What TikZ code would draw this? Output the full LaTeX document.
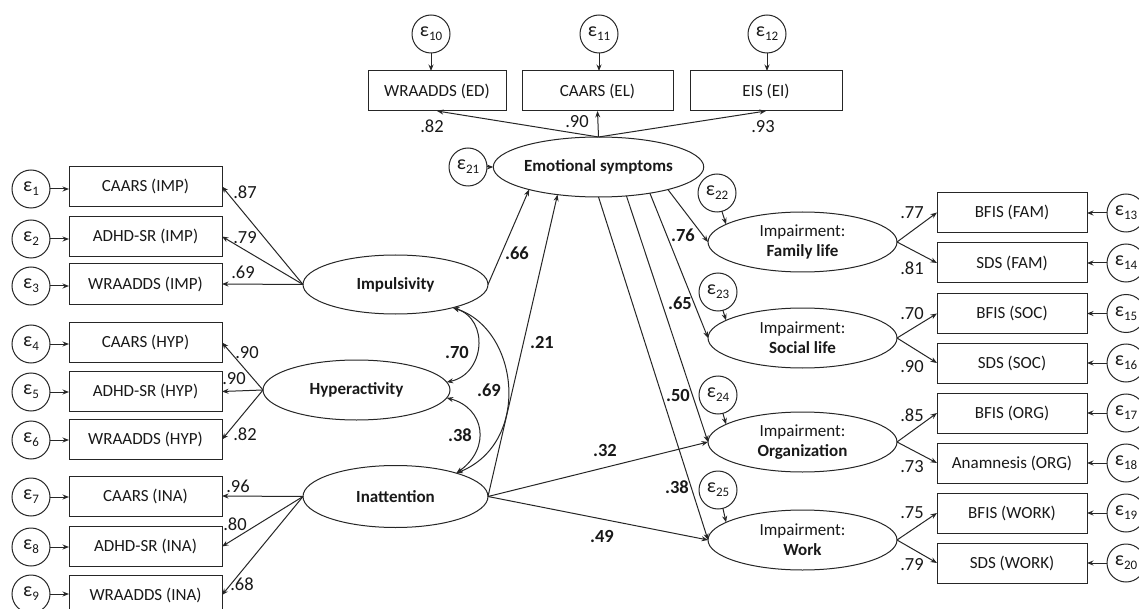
\documentclass[tikz,border=0pt]{standalone}
\usepackage{fontspec}
\setmainfont{Carlito}
\usetikzlibrary{arrows.meta,shapes.geometric}
\newcommand\ep[1]{{\fontsize{20}{20}\selectfont ε}\kern0.2pt\raisebox{-4pt}{\fontsize{13}{13}\selectfont #1}}
\begin{document}
\begin{tikzpicture}[x=1pt,y=-1pt,
  every node/.style={inner sep=0pt, outer sep=0pt, text=black!90},
  obs/.style={draw=black!85, line width=1pt, minimum height=40pt, font=\fontsize{17}{17}\selectfont},
  lat/.style={ellipse, draw=black!85, line width=1pt, font=\fontsize{17}{17}\selectfont\bfseries},
  imp/.style={ellipse, draw=black!85, line width=1pt, minimum width=189pt, minimum height=60pt, align=center, font=\fontsize{17}{20}\selectfont},
  err/.style={circle, draw=black!85, line width=1pt, minimum size=38pt},
  arr/.style={-{Stealth[length=6.5pt,width=5pt]}, draw=black!85, line width=1pt},
  dbl/.style={{Stealth[length=6.5pt,width=5pt]}-{Stealth[length=6.5pt,width=5pt]}, draw=black!85, line width=1pt},
  ld/.style={font=\fontsize{18.5}{18.5}\selectfont},
  pc/.style={font=\fontsize{18.5}{18.5}\selectfont\bfseries}]
\fill[white] (0,0) rectangle (1139,609);
\useasboundingbox (0,0) rectangle (1139,609);

% left observed
\node[obs, minimum width=153pt] (b1) at (145.5,186.5) {CAARS (IMP)};
\node[obs, minimum width=153pt] (b2) at (145.5,236.5) {ADHD-SR (IMP)};
\node[obs, minimum width=153pt] (b3) at (145.5,284) {WRAADDS (IMP)};
\node[obs, minimum width=153pt] (b4) at (145.5,342.5) {CAARS (HYP)};
\node[obs, minimum width=153pt] (b5) at (145.5,391.5) {ADHD-SR (HYP)};
\node[obs, minimum width=153pt] (b6) at (145.5,439.5) {WRAADDS (HYP)};
\node[obs, minimum width=153pt] (b7) at (145.5,496) {CAARS (INA)};
\node[obs, minimum width=153pt] (b8) at (145.5,546.5) {ADHD-SR (INA)};
\node[obs, minimum width=153pt] (b9) at (145.5,595) {WRAADDS (INA)};

\node[err] (e1) at (31,189) {\ep{1}};
\node[err] (e2) at (31,239) {\ep{2}};
\node[err] (e3) at (31,286) {\ep{3}};
\node[err] (e4) at (31,344) {\ep{4}};
\node[err] (e5) at (31,392) {\ep{5}};
\node[err] (e6) at (31,440) {\ep{6}};
\node[err] (e7) at (31,497) {\ep{7}};
\node[err] (e8) at (31,547) {\ep{8}};
\node[err] (e9) at (31,594) {\ep{9}};
\foreach \i in {1,...,9} \draw[arr] (e\i) -- (e\i -| b\i.west);

% top observed
\node[obs, minimum width=138pt] (b10) at (437,91) {WRAADDS (ED)};
\node[obs, minimum width=151pt] (b11) at (597.5,91) {CAARS (EL)};
\node[obs, minimum width=152pt] (b12) at (766,91) {EIS (EI)};
\node[err] (e10) at (431,34) {\ep{10}};
\node[err] (e11) at (599,34) {\ep{11}};
\node[err] (e12) at (767,34) {\ep{12}};
\foreach \i in {10,11,12} \draw[arr] (e\i) -- (e\i |- b\i.north);

% latent
\node[lat, minimum width=183pt, minimum height=60pt] (emo) at (598.5,167) {Emotional symptoms};
\node[err] (e21) at (468,167) {\ep{21}};
\node[lat, minimum width=185pt, minimum height=59pt] (impu) at (395.5,284.5) {Impulsivity};
\node[lat, minimum width=187pt, minimum height=60pt] (hyp) at (356.5,390) {Hyperactivity};
\node[lat, minimum width=185pt, minimum height=62pt] (ina) at (395.5,496.5) {Inattention};

\node[imp] (fam) at (802.5,242) {Impairment:\\\textbf{Family life}};
\node[imp] (soc) at (802.5,338) {Impairment:\\\textbf{Social life}};
\node[imp] (org) at (802.5,442) {Impairment:\\\textbf{Organization}};
\node[imp] (work) at (802.5,540) {Impairment:\\\textbf{Work}};
\node[err] (e22) at (717,193) {\ep{22}};
\node[err] (e23) at (718,292) {\ep{23}};
\node[err] (e24) at (718,395) {\ep{24}};
\node[err] (e25) at (718,490) {\ep{25}};
\draw[arr] (e22.-75) -- (fam.167);
\draw[arr] (e23.-75) -- (soc.167);
\draw[arr] (e24.-75) -- (org.167);
\draw[arr] (e25.-75) -- (work.167);

% right observed
\node[obs, minimum width=150pt] (b13) at (1012,212.5) {BFIS (FAM)};
\node[obs, minimum width=150pt] (b14) at (1012,263) {SDS (FAM)};
\node[obs, minimum width=150pt] (b15) at (1012,313.5) {BFIS (SOC)};
\node[obs, minimum width=150pt] (b16) at (1012,363) {SDS (SOC)};
\node[obs, minimum width=150pt] (b17) at (1012,413) {BFIS (ORG)};
\node[obs, minimum width=150pt] (b18) at (1012,463) {Anamnesis (ORG)};
\node[obs, minimum width=150pt] (b19) at (1012,513) {BFIS (WORK)};
\node[obs, minimum width=150pt] (b20) at (1012,563) {SDS (WORK)};
\node[err] (e13) at (1126,213) {\ep{13}};
\node[err] (e14) at (1126,263) {\ep{14}};
\node[err] (e15) at (1126,313.5) {\ep{15}};
\node[err] (e16) at (1126,363) {\ep{16}};
\node[err] (e17) at (1126,413) {\ep{17}};
\node[err] (e18) at (1126,463) {\ep{18}};
\node[err] (e19) at (1126,513) {\ep{19}};
\node[err] (e20) at (1126,563) {\ep{20}};
\foreach \i in {13,...,20} \draw[arr] (e\i) -- (e\i -| b\i.east);

% loadings
\foreach \b in {b1,b2,b3} \draw[arr] (impu.west) -- (\b.east);
\foreach \b in {b4,b5,b6} \draw[arr] (hyp.west) -- (\b.east);
\foreach \b in {b7,b8,b9} \draw[arr] (ina.west) -- (\b.east);
\foreach \b in {b10,b11,b12} \draw[arr] (emo.north) -- (\b.south);
\draw[arr] (fam.east) -- (b13.west);
\draw[arr] (fam.east) -- (b14.west);
\draw[arr] (soc.east) -- (b15.west);
\draw[arr] (soc.east) -- (b16.west);
\draw[arr] (org.east) -- (b17.west);
\draw[arr] (org.east) -- (b18.west);
\draw[arr] (work.east) -- (b19.west);
\draw[arr] (work.east) -- (b20.west);

% structural
\draw[arr] (e21) -- (emo.west);
\draw[arr] (impu.east) -- (emo.198);
\draw[arr] (ina.east) -- (emo.214);
\draw[arr] (emo.-18) -- (fam.west);
\draw[arr] (emo.-27) -- (soc.west);
\draw[arr] (emo.-46) -- (org.west);
\draw[arr] (emo.270) -- (work.west);
\draw[arr] (ina.east) -- (org.west);
\draw[arr] (ina.east) -- (work.west);

% correlations
\draw[dbl] (impu.-22) .. controls +(37,12) and +(38,-8) .. (hyp.5);
\draw[dbl] (impu.-22) .. controls +(67,22) and +(75,-30) .. (ina.21);
\draw[dbl] (hyp.-5) .. controls +(38,10) and +(35,-25) .. (ina.21);

% labels
\node[ld] (l1) at (245,192) {.87};
\node[ld] (l2) at (245,238) {.79};
\node[ld] (l3) at (243,272) {.69};
\node[ld] (l4) at (247,353) {.90};
\node[ld] (l5) at (234,379) {.90};
\node[ld] (l6) at (245,434) {.82};
\node[ld] (l7) at (238,486) {.96};
\node[ld] (l8) at (235,524) {.80};
\node[ld] (l9) at (242,584) {.68};
\node[ld] (l10) at (432,126) {.82};
\node[ld] (l11) at (577,122) {.90};
\node[ld] (l12) at (763,127) {.93};
\node[ld] (l13) at (912,213) {.77};
\node[ld] (l14) at (912,268) {.81};
\node[ld] (l15) at (912,314) {.70};
\node[ld] (l16) at (912,367) {.90};
\node[ld] (l17) at (912,415) {.85};
\node[ld] (l18) at (912,467) {.73};
\node[ld] (l19) at (912,513) {.75};
\node[ld] (l20) at (912,565) {.79};
\node[pc] (p1) at (517,253) {.66};
\node[pc] (p2) at (542,342) {.21};
\node[pc] (p3) at (457,352) {.70};
\node[pc] (p4) at (489,390) {.69};
\node[pc] (p5) at (460,435) {.38};
\node[pc] (p6) at (683,235) {.76};
\node[pc] (p7) at (680,303) {.65};
\node[pc] (p8) at (678,395) {.50};
\node[pc] (p9) at (677,487) {.38};
\node[pc] (p10) at (605,450) {.32};
\node[pc] (p11) at (602,536) {.49};
\end{tikzpicture}
\end{document}
